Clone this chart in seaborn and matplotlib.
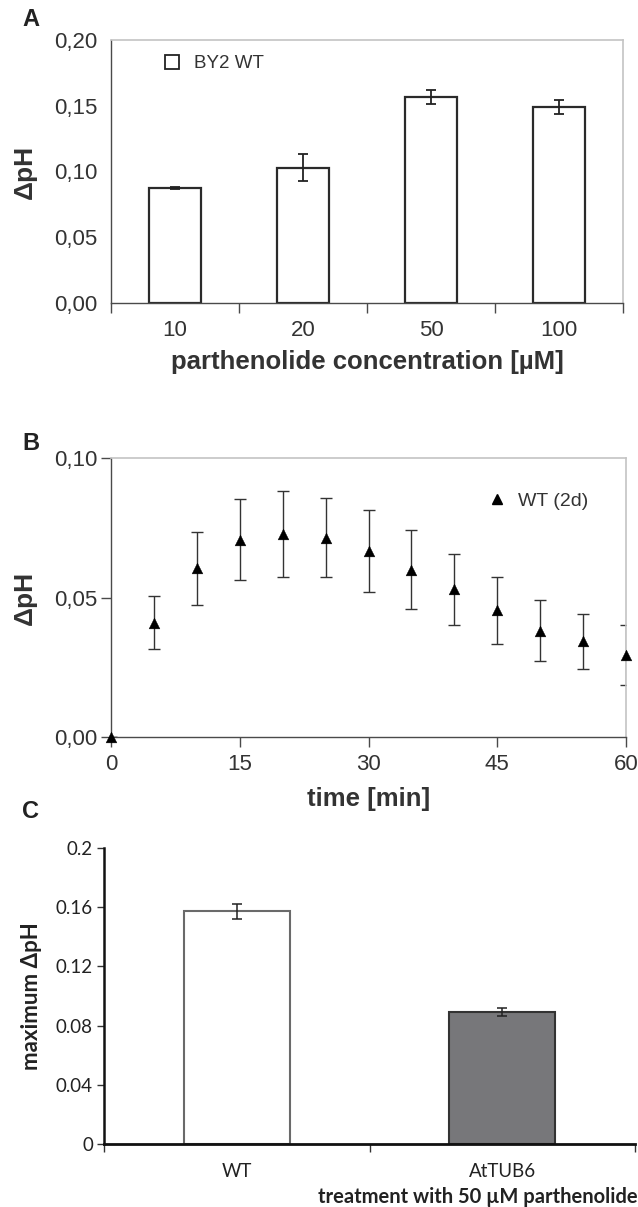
import matplotlib
matplotlib.use("Agg")
import matplotlib.pyplot as plt
import seaborn as sns
import pandas as pd
import numpy as np
from matplotlib.ticker import FuncFormatter, FixedLocator
from matplotlib.lines import Line2D

sns.set_theme(style="white")
plt.rcParams['font.family'] = ['Liberation Sans', 'DejaVu Sans']

# ---------------- data ----------------
conc_labels = ["10", "20", "50", "100"]
conc_dph = [0.0873, 0.1030, 0.1567, 0.1490]
conc_err = [0.0006, 0.0100, 0.0050, 0.0053]

time_min = [0, 5, 10, 15, 20, 25, 30, 35, 40, 45, 50, 55, 60]
time_dph = [0.0, 0.0410, 0.0604, 0.0707, 0.0727, 0.0714, 0.0667, 0.0600, 0.0529,
            0.0454, 0.0381, 0.0343, 0.0293]
time_err = [0.0, 0.0094, 0.0130, 0.0145, 0.0155, 0.0142, 0.0146, 0.0142, 0.0126,
            0.0120, 0.0110, 0.0098, 0.0107]

lines = ["WT", "AtTUB6"]
max_dph = [0.1573, 0.0894]
max_err = [0.0052, 0.0028]

W, H = 638, 1207
fig = plt.figure(figsize=(W / 100, H / 100), dpi=100)

def ax_rect(l, r, t, b):
    return [l / W, 1 - b / H, (r - l) / W, (b - t) / H]

comma = FuncFormatter(lambda v, p: f"{v:.2f}".replace(".", ","))
dark = "#4a4a4a"
light = "#c4c4c4"
txt = "#333333"

# ---------------- Panel A ----------------
axA = fig.add_axes(ax_rect(111, 623, 40, 303))
dfA = pd.DataFrame({"conc": conc_labels, "dph": conc_dph})
sns.barplot(data=dfA, x="conc", y="dph", order=conc_labels, color="white",
            edgecolor="#2a2a2a", linewidth=1.6, width=0.4, errorbar=None, ax=axA)
axA.errorbar(range(len(conc_labels)), conc_dph, yerr=conc_err, fmt="none",
             ecolor="#222222", elinewidth=1.3, capsize=3.5, capthick=1.3)
axA.set_xlim(-0.5, 3.5)
axA.set_ylim(0, 0.20)
axA.set_yticks([0, 0.05, 0.10, 0.15, 0.20])
axA.yaxis.set_major_formatter(comma)
axA.xaxis.set_minor_locator(FixedLocator([-0.5, 0.5, 1.5, 2.5, 3.5]))
axA.tick_params(axis="x", which="major", length=0, pad=12, labelsize=16, colors=txt)
axA.tick_params(axis="x", which="minor", length=7, width=1, color=dark, direction="out")
axA.tick_params(axis="y", length=7, width=1, color=dark, direction="out", labelsize=16,
                labelcolor=txt, pad=3)
axA.xaxis.set_tick_params(which="both", bottom=True)
for s in ["left", "bottom"]:
    axA.spines[s].set_color(dark)
    axA.spines[s].set_linewidth(1.0)
for s in ["top", "right"]:
    axA.spines[s].set_color(light)
    axA.spines[s].set_linewidth(1.2)
axA.set_xlabel("parthenolide concentration [µM]", fontsize=18.5, fontweight="bold",
               color=txt, labelpad=7)
axA.set_ylabel("ΔpH", fontsize=19, fontweight="bold", color=txt, labelpad=12)
hA = Line2D([], [], marker="s", linestyle="none", markersize=10, markerfacecolor="white",
            markeredgecolor="#222222", markeredgewidth=1.3)
axA.legend([hA], ["BY2 WT"], loc="upper left", bbox_to_anchor=(0.06, 0.985), frameon=False,
           fontsize=13.5, handletextpad=0.2, borderaxespad=0.2, labelcolor=txt)

# ---------------- Panel B ----------------
axB = fig.add_axes(ax_rect(111, 626, 458, 737))
dfB = pd.DataFrame({"t": time_min, "dph": time_dph})
axB.errorbar(time_min, time_dph, yerr=time_err, fmt="none", ecolor="#333333",
             elinewidth=1.0, capsize=4, capthick=1.0)
sns.scatterplot(data=dfB, x="t", y="dph", marker="^", s=60, color="black",
                edgecolor="black", linewidth=0.3, ax=axB, clip_on=False, zorder=5)
axB.set_xlim(0, 60)
axB.set_ylim(0, 0.10)
axB.set_xticks([0, 15, 30, 45, 60])
axB.set_yticks([0, 0.05, 0.10])
axB.yaxis.set_major_formatter(comma)
axB.tick_params(axis="x", length=7, width=1, color=dark, direction="out", labelsize=16,
                labelcolor=txt, pad=5)
axB.tick_params(axis="y", length=7, width=1, color=dark, direction="out", labelsize=16,
                labelcolor=txt, pad=3)
axB.xaxis.set_tick_params(bottom=True)
axB.yaxis.set_tick_params(left=True)
for s in ["left", "bottom"]:
    axB.spines[s].set_color(dark)
    axB.spines[s].set_linewidth(1.0)
for s in ["top", "right"]:
    axB.spines[s].set_color(light)
    axB.spines[s].set_linewidth(1.2)
axB.set_xlabel("time [min]", fontsize=18.5, fontweight="bold", color=txt, labelpad=9)
axB.set_ylabel("ΔpH", fontsize=19, fontweight="bold", color=txt, labelpad=12)
hB = Line2D([], [], marker="^", linestyle="none", markersize=7, markerfacecolor="black",
            markeredgecolor="black")
axB.legend([hB], ["WT (2d)"], loc="upper right", bbox_to_anchor=(0.95, 0.92), frameon=False,
           fontsize=14, handletextpad=0.1, borderaxespad=0.2, labelcolor=txt)

# ---------------- Panel C ----------------
cfont = ['Lato', 'DejaVu Sans']
axC = fig.add_axes(ax_rect(104, 635, 848, 1144))
dfC = pd.DataFrame({"line": lines, "dph": max_dph})
sns.barplot(data=dfC, x="line", y="dph", order=lines, hue="line", hue_order=lines,
            palette=["white", "#76777b"], edgecolor="#555555", linewidth=1.5, width=0.4,
            errorbar=None, legend=False, ax=axC)
for p, ec in zip(axC.patches, ["#6a6a6a", "#333333"]):
    p.set_edgecolor(ec)
axC.errorbar(range(len(lines)), max_dph, yerr=max_err, fmt="none", ecolor="#222222",
             elinewidth=1.1, capsize=3.5, capthick=1.1)
axC.set_xlim(-0.5, 1.5)
axC.set_ylim(0, 0.2)
axC.set_yticks([0, 0.04, 0.08, 0.12, 0.16, 0.2])
axC.set_yticklabels(["0", "0.04", "0.08", "0.12", "0.16", "0.2"], family=cfont, fontsize=13.5)
axC.set_xticks([0, 1])
axC.set_xticklabels(lines, family=cfont, fontsize=13.5)
axC.xaxis.set_minor_locator(FixedLocator([-0.5, 0.5, 1.5]))
axC.tick_params(axis="x", which="major", length=0, pad=14, colors="#222222")
axC.tick_params(axis="x", which="minor", length=6, width=1, color="#333333", direction="out")
axC.tick_params(axis="y", length=5, width=1, color="#333333", direction="out",
                labelcolor="#222222", pad=3)
axC.xaxis.set_tick_params(which="both", bottom=True)
axC.yaxis.set_tick_params(left=True)
sns.despine(ax=axC)
axC.spines["left"].set_color("#111111")
axC.spines["left"].set_linewidth(1.8)
axC.spines["bottom"].set_color("#111111")
axC.spines["bottom"].set_linewidth(2.0)
axC.set_xlabel("")
axC.set_ylabel("maximum ΔpH", family=cfont, fontsize=16, fontweight="bold",
               color="#222222", labelpad=10)
fig.text(638 / W, 1 - 1197 / H, "treatment with 50 µM parthenolide", family=cfont,
         fontsize=14.5, fontweight="bold", ha="right", va="center", color="#222222")

# ---------------- panel letters ----------------
for letter, (x, y) in zip(["A", "B", "C"], [(31, 20), (31, 443), (31, 812)]):
    fig.text(x / W, 1 - y / H, letter, fontsize=17, fontweight="bold", ha="center",
             va="center", color="#222222")

fig.savefig("out.png", dpi=100)
